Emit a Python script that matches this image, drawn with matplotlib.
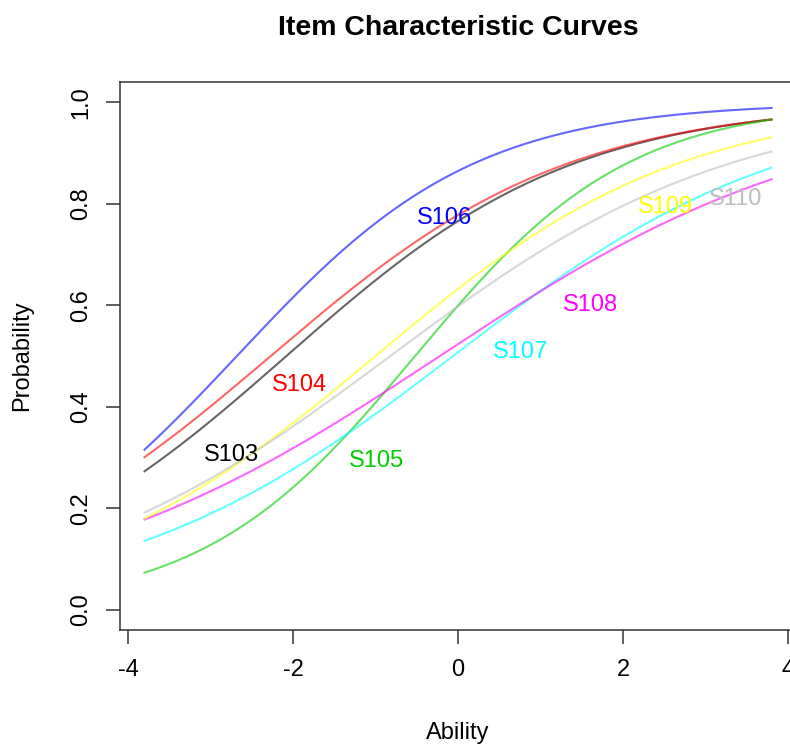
import numpy as np
import matplotlib
matplotlib.use('Agg')
import matplotlib.pyplot as plt

plt.rcParams['font.family'] = ['Liberation Sans', 'DejaVu Sans']
plt.rcParams['axes.unicode_minus'] = False

# 2PL item parameters
items = ['S103', 'S104', 'S105', 'S106', 'S107', 'S108', 'S109', 'S110']
discrimination = [0.570, 0.552, 0.775, 0.692, 0.495, 0.428, 0.542, 0.483]
difficulty = [-2.08, -2.27, -0.52, -2.68, -0.06, -0.22, -1.00, -0.82]
colors = ['black', 'red', '#00cd00', 'blue', 'cyan', 'magenta', 'yellow', '#bebebe']

ability_min, ability_max = -3.8, 3.8

# where the item names are written
label_ability = [-2.75, -1.92, -0.99, -0.16, 0.76, 1.61, 2.52, 3.37]
label_prob = [0.304, 0.443, 0.294, 0.771, 0.508, 0.601, 0.794, 0.810]

W, H = 790, 745
fig = plt.figure(figsize=(W / 100, H / 100), dpi=100)
# plot box in pixels: left 120, right 796, top 82, bottom 630
ax = fig.add_axes([120 / W, (H - 630) / H, 676 / W, 548 / H])

theta = np.linspace(ability_min, ability_max, 300)
for a, b, c in zip(discrimination, difficulty, colors):
    p = 1 / (1 + np.exp(-a * (theta - b)))
    ax.plot(theta, p, color=c, alpha=0.6, lw=1.5)

for name, x, y, c in zip(items, label_ability, label_prob, colors):
    ax.text(x, y, name, color=c, fontsize=17, ha='center', va='center')

ax.set_xlim(-4.097, 4.097)
ax.set_ylim(-0.04, 1.04)
ax.set_xticks([-4, -2, 0, 2, 4])
ax.set_yticks([0.0, 0.2, 0.4, 0.6, 0.8, 1.0])
ax.set_yticklabels(['0.0', '0.2', '0.4', '0.6', '0.8', '1.0'], rotation=90, va='center')
ax.tick_params(direction='out', length=10, width=1.1, colors='#333333',
               labelcolor='black', labelsize=17)
ax.tick_params(axis='x', pad=11)
ax.tick_params(axis='y', pad=10)
for s in ax.spines.values():
    s.set_color('#333333')
    s.set_linewidth(1.1)

fig.text(458 / W, 1 - 28 / H, 'Item Characteristic Curves', ha='center', va='center',
         fontsize=20.5, fontweight='bold')
fig.text(458 / W, 1 - 733 / H, 'Ability', ha='center', va='center', fontsize=17)
fig.text(22 / W, 1 - 356 / H, 'Probability', ha='center', va='center', fontsize=17,
         rotation=90)

fig.savefig('out.png', dpi=100)
